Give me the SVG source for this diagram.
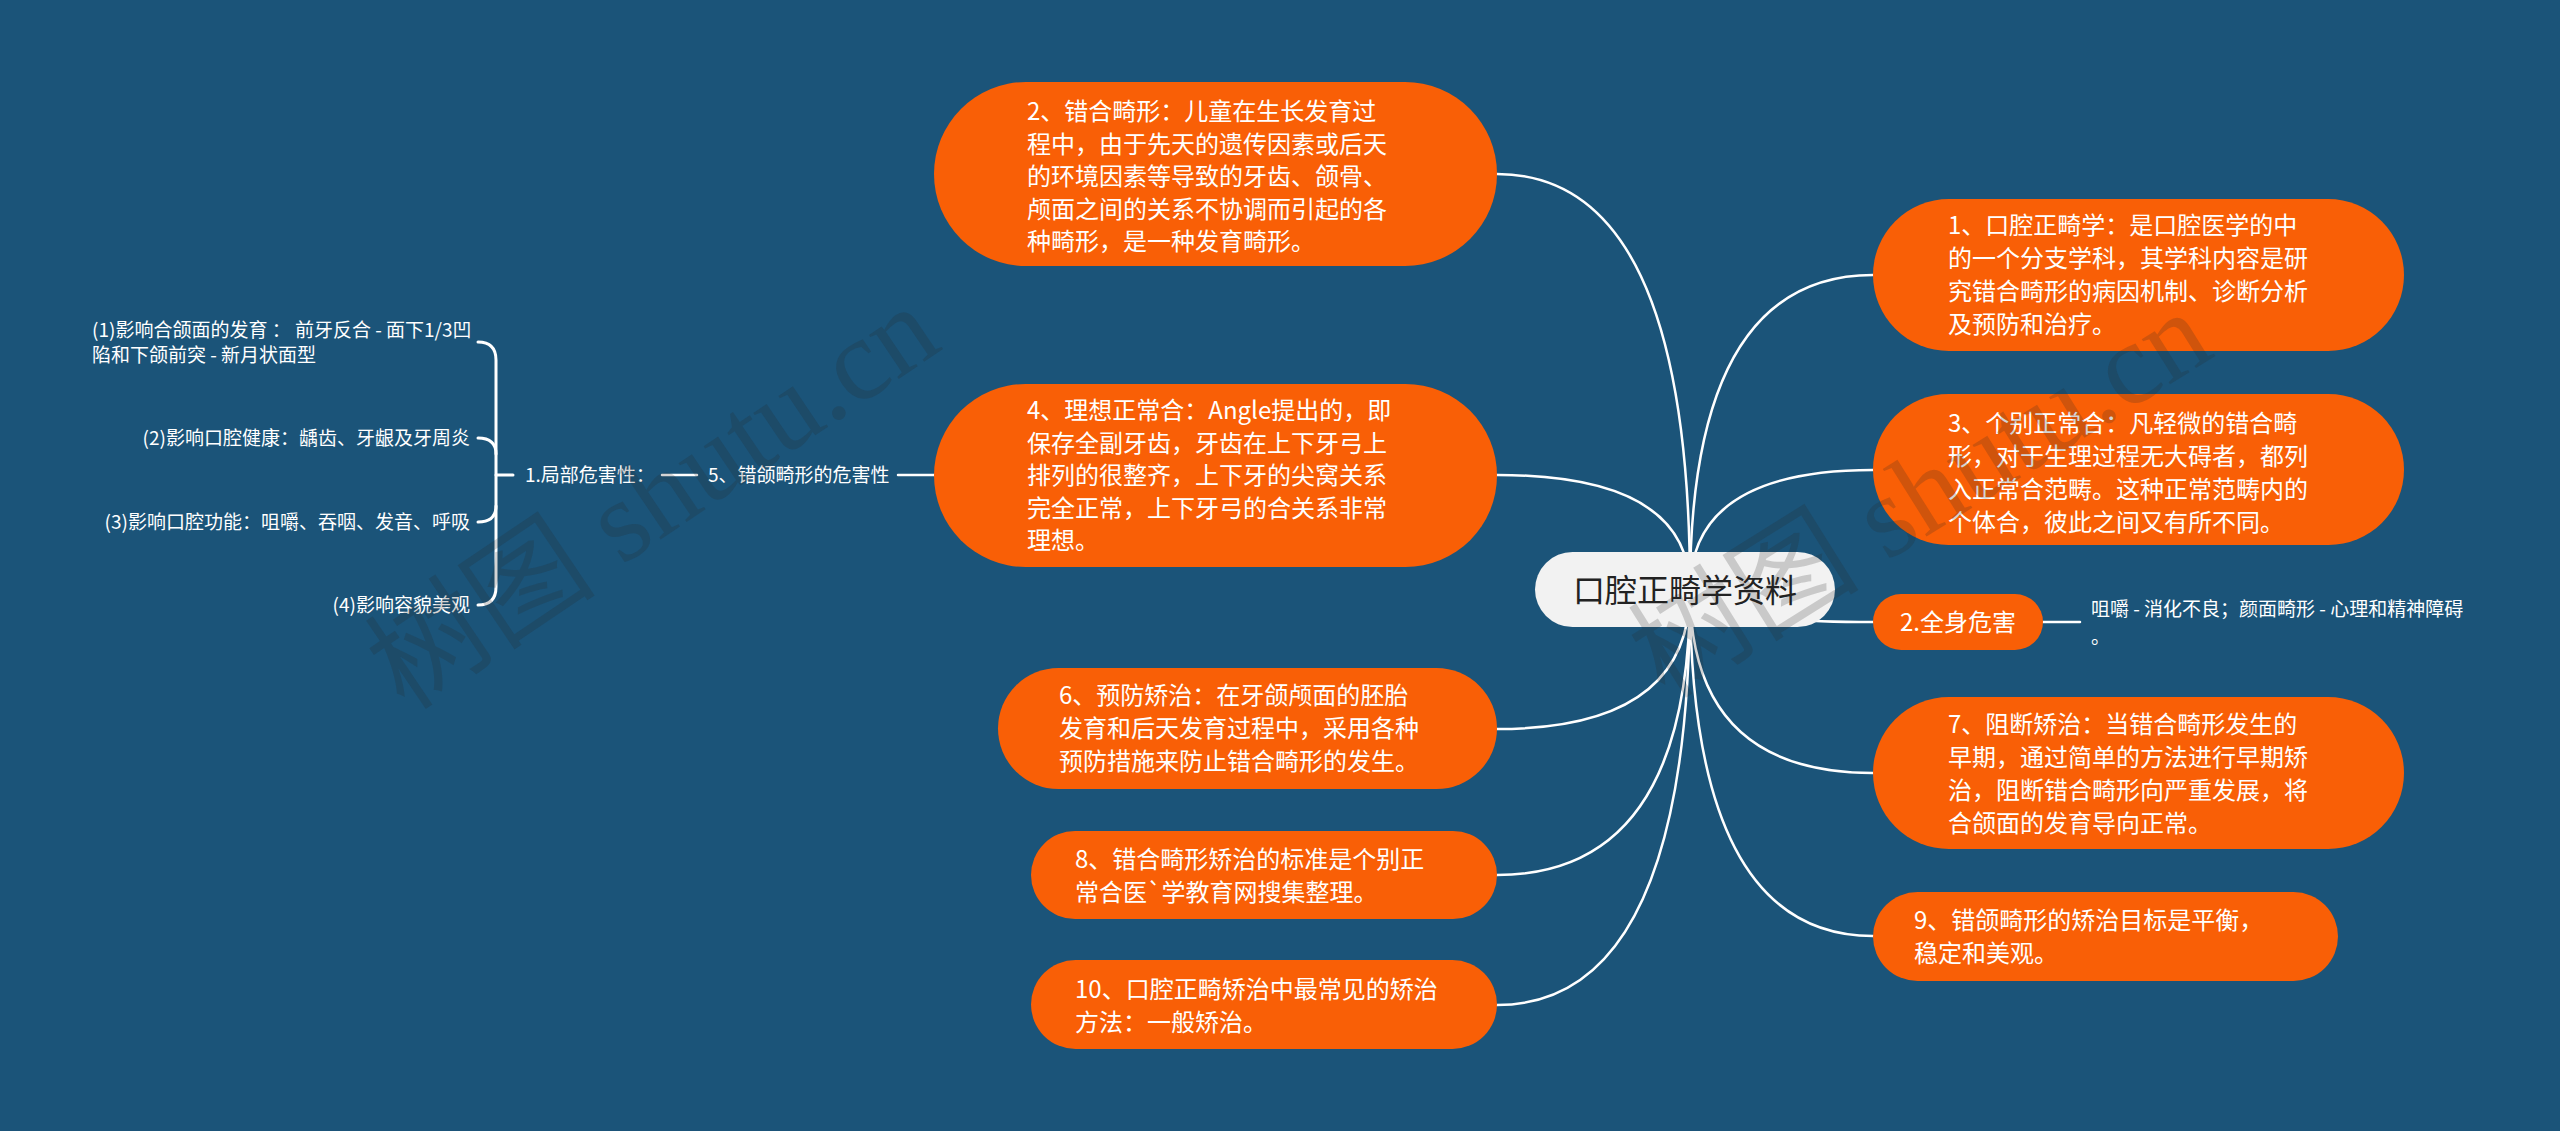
<svg xmlns="http://www.w3.org/2000/svg" width="2560" height="1131" viewBox="0 0 2560 1131">
<style>
.bg{fill:#1b5479}
.pill{fill:#f95f06}
.nt{font-family:"Noto Sans CJK SC","Liberation Sans",sans-serif;font-size:24px;fill:#ffffff}
.st{font-family:"Noto Sans CJK SC","Liberation Sans",sans-serif;font-size:19px;fill:#ffffff}
.ln{fill:none;stroke:#ffffff;stroke-width:2.5;stroke-linecap:round}
.br{fill:none;stroke:#ffffff;stroke-width:3;stroke-linecap:round}
.wm{font-family:"Liberation Serif","Noto Sans CJK SC",serif;font-size:116px;fill:#282828;fill-opacity:0.2}
</style>
<rect class="bg" x="0" y="0" width="2560" height="1131"/>
<g id="connectors">
<path class="ln" d="M1690 590 Q1690 174 1497 174"/>
<path class="ln" d="M1690 590 Q1690 475 1497 475"/>
<path class="ln" d="M1690 590 Q1690 729 1497 729"/>
<path class="ln" d="M1690 590 Q1690 875 1497 875"/>
<path class="ln" d="M1690 590 Q1690 1005 1497 1005"/>
<path class="ln" d="M1690 590 Q1690 275 1873 275"/>
<path class="ln" d="M1690 590 Q1690 470 1873 470"/>
<path class="ln" d="M1690 590 Q1690 622 1873 622"/>
<path class="ln" d="M1690 590 Q1690 773 1873 773"/>
<path class="ln" d="M1690 590 Q1690 936 1873 936"/>
<path class="ln" d="M2043 622 L2080 622"/>
<path class="ln" d="M898 475 L934 475"/>
<path class="ln" d="M662 475 L697 475"/>
<path class="br" d="M478 342 Q496 342 496 360 L496 587 Q496 605 478 605"/>
<path class="br" d="M478 438 Q496 438 496 454"/>
<path class="br" d="M478 522 Q496 522 496 506"/>
<path class="br" d="M496 475 L513 475"/>
</g>
<g id="root">
<rect x="1535" y="552" width="300" height="75" rx="37.5" fill="#f2f2f2"/>
<text x="1685" y="602" text-anchor="middle" font-family="Noto Sans CJK SC, Liberation Sans, sans-serif" font-size="32" fill="#222222">口腔正畸学资料</text>
</g>
<g id="n2">
<rect class="pill" x="934" y="82" width="563" height="184" rx="92"/>
<text class="nt"><tspan x="1027" y="120">2、错合畸形：儿童在生长发育过</tspan><tspan x="1027" y="152.5">程中，由于先天的遗传因素或后天</tspan><tspan x="1027" y="185">的环境因素等导致的牙齿、颌骨、</tspan><tspan x="1027" y="217.5">颅面之间的关系不协调而引起的各</tspan><tspan x="1027" y="250">种畸形，是一种发育畸形。</tspan></text>
</g>
<g id="n4">
<rect class="pill" x="934" y="384" width="563" height="183" rx="91.5"/>
<text class="nt"><tspan x="1027" y="419">4、理想正常合：Angle提出的，即</tspan><tspan x="1027" y="451.5">保存全副牙齿，牙齿在上下牙弓上</tspan><tspan x="1027" y="484">排列的很整齐，上下牙的尖窝关系</tspan><tspan x="1027" y="516.5">完全正常，上下牙弓的合关系非常</tspan><tspan x="1027" y="549">理想。</tspan></text>
</g>
<g id="n6">
<rect class="pill" x="998" y="668" width="499" height="121" rx="60.5"/>
<text class="nt"><tspan x="1059" y="704">6、预防矫治：在牙颌颅面的胚胎</tspan><tspan x="1059" y="737">发育和后天发育过程中，采用各种</tspan><tspan x="1059" y="770">预防措施来防止错合畸形的发生。</tspan></text>
</g>
<g id="n8">
<rect class="pill" x="1031" y="831" width="466" height="88" rx="44"/>
<text class="nt"><tspan x="1075" y="867.5">8、错合畸形矫治的标准是个别正</tspan><tspan x="1075" y="900.5">常合医`学教育网搜集整理。</tspan></text>
</g>
<g id="n10">
<rect class="pill" x="1031" y="960" width="466" height="89" rx="44.5"/>
<text class="nt"><tspan x="1075" y="998">10、口腔正畸矫治中最常见的矫治</tspan><tspan x="1075" y="1031">方法：一般矫治。</tspan></text>
</g>
<g id="n5">
<text class="st" x="708" y="482">5、错颌畸形的危害性</text>
</g>
<g id="n5-1">
<text class="st" x="525" y="482">1.局部危害性：</text>
</g>
<g id="n5-1-1">
<text class="st"><tspan x="92" y="337">(1)影响合颌面的发育 ： 前牙反合 - 面下1/3凹</tspan><tspan x="92" y="362">陷和下颌前突 - 新月状面型</tspan></text>
</g>
<g id="n5-1-2">
<text class="st" x="470" y="445" text-anchor="end">(2)影响口腔健康：龋齿、牙龈及牙周炎</text>
</g>
<g id="n5-1-3">
<text class="st" x="470" y="529" text-anchor="end">(3)影响口腔功能：咀嚼、吞咽、发音、呼吸</text>
</g>
<g id="n5-1-4">
<text class="st" x="470" y="612" text-anchor="end">(4)影响容貌美观</text>
</g>
<g id="n1">
<rect class="pill" x="1873" y="199" width="531" height="152" rx="76"/>
<text class="nt"><tspan x="1948" y="234">1、口腔正畸学：是口腔医学的中</tspan><tspan x="1948" y="267">的一个分支学科，其学科内容是研</tspan><tspan x="1948" y="300">究错合畸形的病因机制、诊断分析</tspan><tspan x="1948" y="333">及预防和治疗。</tspan></text>
</g>
<g id="n3">
<rect class="pill" x="1873" y="394" width="531" height="151" rx="75.5"/>
<text class="nt"><tspan x="1948" y="432">3、个别正常合：凡轻微的错合畸</tspan><tspan x="1948" y="465">形，对于生理过程无大碍者，都列</tspan><tspan x="1948" y="498">入正常合范畴。这种正常范畴内的</tspan><tspan x="1948" y="531">个体合，彼此之间又有所不同。</tspan></text>
</g>
<g id="n-whole">
<rect class="pill" x="1873" y="594" width="170" height="56" rx="28"/>
<text class="nt" x="1900" y="631">2.全身危害</text>
</g>
<g id="n-whole-1">
<text class="st"><tspan x="2091" y="616">咀嚼 - 消化不良；颜面畸形 - 心理和精神障碍</tspan><tspan x="2091" y="644">。</tspan></text>
</g>
<g id="n7">
<rect class="pill" x="1873" y="697" width="531" height="152" rx="76"/>
<text class="nt"><tspan x="1948" y="733">7、阻断矫治：当错合畸形发生的</tspan><tspan x="1948" y="766">早期，通过简单的方法进行早期矫</tspan><tspan x="1948" y="799">治，阻断错合畸形向严重发展，将</tspan><tspan x="1948" y="832">合颌面的发育导向正常。</tspan></text>
</g>
<g id="n9">
<rect class="pill" x="1873" y="892" width="465" height="89" rx="44.5"/>
<text class="nt"><tspan x="1914" y="929">9、错颌畸形的矫治目标是平衡，</tspan><tspan x="1914" y="962">稳定和美观。</tspan></text>
</g>
<g id="watermark">
<text class="wm" transform="translate(405,712) rotate(-34)">树图 shutu.cn</text>
<text class="wm" transform="translate(1665,700) rotate(-32)">树图 shutu.cn</text>
</g>
</svg>
